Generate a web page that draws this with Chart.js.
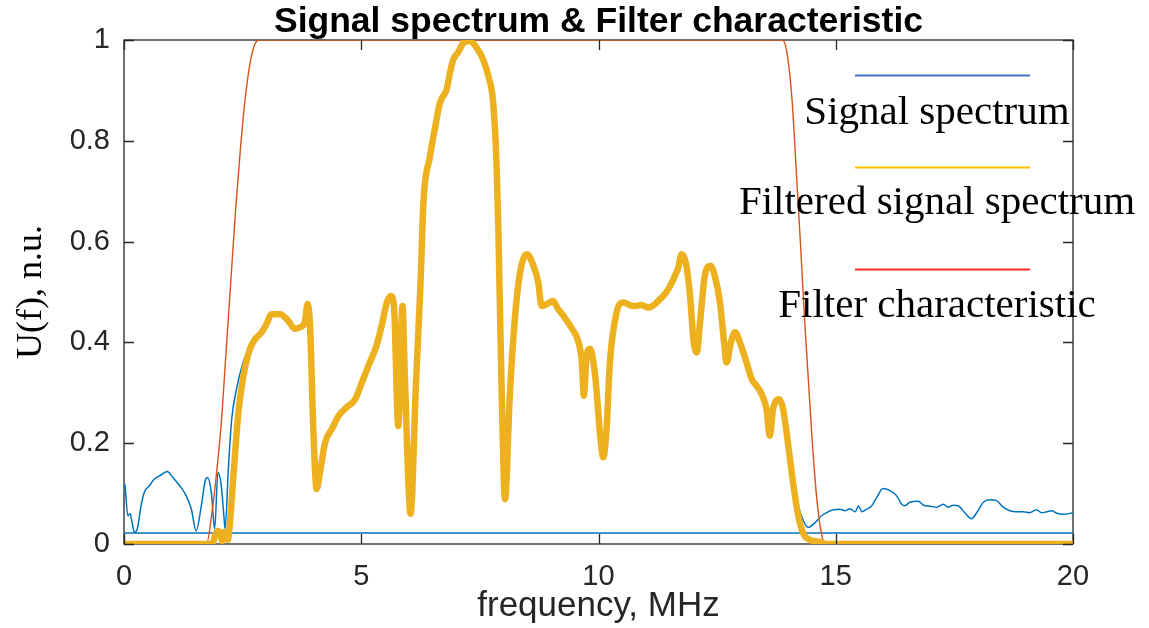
<!DOCTYPE html>
<html>
<head>
<meta charset="utf-8">
<script src="https://cdn.jsdelivr.net/npm/chart.js@4.4.1/dist/chart.umd.min.js"></script>
<style>
  html, body { margin: 0; padding: 0; background: #ffffff; }
  #wrap { width: 1149px; height: 628px; position: relative; }
</style>
</head>
<body>
<div id="wrap"><canvas id="c"></canvas></div>
<script>
// ---- data -------------------------------------------------------------
const chartTitle = 'Signal spectrum & Filter characteristic';
const seriesLabels = ['Signal spectrum', 'Filtered signal spectrum', 'Filter characteristic'];
const xTickLabels = ['0', '5', '10', '15', '20'];
const yTickLabels = ['0', '0.2', '0.4', '0.6', '0.8', '1'];

// filter transfer characteristic (frequency in MHz, normalized gain)
const filterFreq = [0, 1.74, 1.85, 1.95, 2.05, 2.15, 2.25, 2.35, 2.45, 2.55, 2.65, 2.75, 2.85,
  13.88, 13.98, 14.08, 14.18, 14.26, 14.34, 14.42, 14.5, 14.6, 14.7, 14.78, 20];
const filterGain = [0, 0, 0.06, 0.14, 0.24, 0.38, 0.52, 0.66, 0.78, 0.88, 0.95, 0.99, 1,
  1, 0.97, 0.88, 0.72, 0.59, 0.45, 0.33, 0.21, 0.09, 0.02, 0, 0];

// spectrum after filtering
const filteredFreq = [0, 1.86, 1.93, 1.98, 2.03, 2.07, 2.11, 2.15, 2.19, 2.23, 2.3, 2.41, 2.51,
  2.65, 2.76, 2.9, 3.0, 3.11, 3.29, 3.46, 3.6, 3.71, 3.81, 3.87, 3.92, 3.99, 4.06, 4.13,
  4.24, 4.38, 4.52, 4.69, 4.87, 5.04, 5.18, 5.32, 5.43, 5.54, 5.62, 5.69, 5.78, 5.87,
  5.92, 6.04, 6.15, 6.25, 6.31, 6.45, 6.55, 6.66, 6.8, 6.87, 6.94, 7.05, 7.15, 7.29,
  7.43, 7.57, 7.68, 7.78, 7.85, 7.89, 7.92, 7.96, 8.03, 8.13, 8.24, 8.35, 8.49, 8.63,
  8.73, 8.8, 8.91, 9.04, 9.15, 9.26, 9.36, 9.47, 9.57, 9.65, 9.69, 9.75, 9.82, 9.93,
  10.03, 10.1, 10.17, 10.24, 10.38, 10.52, 10.73, 10.91, 11.05, 11.19, 11.3, 11.4,
  11.51, 11.61, 11.68, 11.75, 11.84, 11.93, 12.0, 12.07, 12.14, 12.24, 12.36, 12.45,
  12.56, 12.64, 12.7, 12.79, 12.88, 12.98, 13.12, 13.23, 13.33, 13.44, 13.54, 13.61,
  13.68, 13.81, 13.89, 14.0, 14.1, 14.21, 14.32, 14.46, 14.67, 14.8, 20];
const filteredAmp = [0, 0, 0.02, 0.026, 0.02, 0.006, 0.024, 0.02, 0.008, 0.04, 0.127, 0.26, 0.33,
  0.386, 0.406, 0.42, 0.436, 0.456, 0.456, 0.443, 0.427, 0.43, 0.44, 0.476, 0.433, 0.228, 0.109, 0.142,
  0.202, 0.228, 0.254, 0.271, 0.287, 0.327, 0.36, 0.393, 0.433, 0.479, 0.492, 0.472, 0.234, 0.472,
  0.327, 0.06, 0.31, 0.52, 0.677, 0.77, 0.823, 0.876, 0.902, 0.935, 0.961, 0.977, 0.994, 0.998,
  0.985, 0.961, 0.928, 0.876, 0.757, 0.625, 0.48, 0.3, 0.089, 0.294, 0.45, 0.54, 0.575, 0.552,
  0.519, 0.472, 0.476, 0.482, 0.466, 0.453, 0.439, 0.423, 0.403, 0.36, 0.294, 0.373, 0.387, 0.334,
  0.221, 0.172, 0.228, 0.36, 0.459, 0.479, 0.472, 0.474, 0.469, 0.476, 0.486, 0.496,
  0.512, 0.532, 0.548, 0.575, 0.558, 0.492, 0.406, 0.38, 0.44, 0.532, 0.552, 0.532,
  0.479, 0.406, 0.36, 0.4, 0.42, 0.4, 0.36, 0.327, 0.314, 0.297, 0.268, 0.215,
  0.268, 0.287, 0.268, 0.195, 0.122, 0.056, 0.02, 0.008, 0.004, 0, 0];

// original signal spectrum below and above the pass band
const signalLowFreq = [0, 0.02, 0.08, 0.13, 0.17, 0.22, 0.28, 0.36, 0.43, 0.54, 0.64, 0.75, 0.91,
  1.03, 1.17, 1.31, 1.42, 1.52, 1.63, 1.71, 1.76, 1.84, 1.91, 1.98, 2.05, 2.11, 2.13, 2.2,
  2.27, 2.37, 2.51, 2.6];
const signalLowAmp = [0.12, 0.116, 0.056, 0.06, 0.043, 0.023, 0.03, 0.076, 0.103, 0.116, 0.129, 0.135, 0.144,
  0.132, 0.116, 0.096, 0.069, 0.026, 0.076, 0.125, 0.132, 0.103, 0.03, 0.142, 0.116, 0.05, 0.03, 0.15,
  0.248, 0.307, 0.36, 0.38];
const signalHighFreq = [14.14, 14.3, 14.42, 14.56, 14.7, 14.84, 14.95, 15.09, 15.2, 15.3, 15.41, 15.48,
  15.55, 15.65, 15.76, 15.86, 16.0, 16.14, 16.28, 16.39, 16.46, 16.56, 16.74, 16.85, 16.99,
  17.13, 17.27, 17.37, 17.48, 17.58, 17.72, 17.86, 17.97, 18.11, 18.24, 18.39, 18.53, 18.67,
  18.81, 18.95, 19.09, 19.23, 19.34, 19.45, 19.55, 19.66, 19.8, 20];
const signalHighAmp = [0.102, 0.05, 0.033, 0.042, 0.056, 0.064, 0.068, 0.069, 0.066, 0.07, 0.064, 0.076,
  0.064, 0.069, 0.076, 0.092, 0.11, 0.106, 0.096, 0.079, 0.076, 0.083, 0.085, 0.077, 0.075,
  0.073, 0.079, 0.073, 0.077, 0.076, 0.062, 0.05, 0.062, 0.083, 0.088, 0.086, 0.073, 0.066,
  0.064, 0.064, 0.062, 0.068, 0.062, 0.064, 0.066, 0.061, 0.059, 0.062];
const signalFloorFreq = [0, 20];
const signalFloorAmp = [0.022, 0.022];

// ---- styling ----------------------------------------------------------
const lineColors = ['#0072BD', '#EDB120', '#D95319'];
const legendColors = ['#4472C4', '#FFC000', '#FF2A1A'];
const sans = "'Liberation Sans', Arial, Helvetica, sans-serif";
const serif = "'Liberation Serif', 'Times New Roman', serif";
const axisInk = '#262626';

const toPoints = (xs, ys) => xs.map((x, i) => ({ x: x, y: ys[i] }));
const filteredPts = toPoints(filteredFreq, filteredAmp);
// inside the pass band the signal spectrum coincides with the filtered one
const signalPts = toPoints(signalLowFreq, signalLowAmp)
  .concat(filteredPts.filter(p => p.x > 2.6 && p.x < 14.12))
  .concat(toPoints(signalHighFreq, signalHighAmp));

// MATLAB-like box with inward ticks
const axesFrame = {
  id: 'axesFrame',
  beforeDatasetsDraw(chart) {
    const { ctx, chartArea: a } = chart;
    ctx.save();
    ctx.strokeStyle = axisInk;
    ctx.lineWidth = 1.3;
    ctx.strokeRect(a.left, a.top, a.right - a.left, a.bottom - a.top);
    ctx.restore();
  },
  afterDatasetsDraw(chart) {
    const { ctx, chartArea: a, scales } = chart;
    const len = 10;
    ctx.save();
    ctx.strokeStyle = axisInk;
    ctx.lineWidth = 1.3;
    ctx.beginPath();
    scales.x.ticks.forEach(t => {
      const px = Math.round(scales.x.getPixelForValue(t.value)) + 0.5;
      ctx.moveTo(px, a.bottom); ctx.lineTo(px, a.bottom - len);
      ctx.moveTo(px, a.top); ctx.lineTo(px, a.top + len);
    });
    scales.y.ticks.forEach(t => {
      const py = Math.round(scales.y.getPixelForValue(t.value)) + 0.5;
      ctx.moveTo(a.left, py); ctx.lineTo(a.left + len, py);
      ctx.moveTo(a.right, py); ctx.lineTo(a.right - len, py);
    });
    ctx.stroke();
    ctx.restore();
  }
};

// bold title centred over the axes box
const axesTitle = {
  id: 'axesTitle',
  afterDraw(chart) {
    const { ctx, chartArea: a } = chart;
    ctx.save();
    ctx.font = 'bold 35.5px ' + sans;
    ctx.fillStyle = '#000000';
    ctx.textAlign = 'center';
    ctx.textBaseline = 'alphabetic';
    ctx.fillText(chartTitle, (a.left + a.right) / 2, a.top - 8);
    ctx.restore();
  }
};

// stacked legend: line sample above a centred serif caption
const legendBlock = {
  id: 'legendBlock',
  afterDraw(chart) {
    const { ctx } = chart;
    const lineY = [75, 167, 269];
    const textY = [124, 214, 317];
    ctx.save();
    ctx.font = '41px ' + serif;
    ctx.textAlign = 'center';
    ctx.textBaseline = 'alphabetic';
    chart.data.datasets.forEach(ds => {
      if (ds.legendSlot === undefined) return;
      const i = ds.legendSlot;
      ctx.strokeStyle = legendColors[i];
      ctx.lineWidth = 2;
      ctx.beginPath();
      ctx.moveTo(855, lineY[i] + 0.5);
      ctx.lineTo(1030, lineY[i] + 0.5);
      ctx.stroke();
      ctx.fillStyle = '#000000';
      ctx.fillText(ds.label, 937, textY[i]);
    });
    ctx.restore();
  }
};

new Chart(document.getElementById('c'), {
  type: 'scatter',
  data: {
    datasets: [
      { label: seriesLabels[1], legendSlot: 1, data: filteredPts, showLine: true,
        borderColor: lineColors[1], backgroundColor: lineColors[1], borderWidth: 6.5,
        pointRadius: 0, borderJoinStyle: 'round', borderCapStyle: 'round',
        cubicInterpolationMode: 'monotone', order: 0 },
      { label: seriesLabels[2], legendSlot: 2, data: toPoints(filterFreq, filterGain), showLine: true,
        borderColor: lineColors[2], backgroundColor: lineColors[2], borderWidth: 1.4,
        pointRadius: 0, cubicInterpolationMode: 'monotone', order: 1 },
      { label: seriesLabels[0], legendSlot: 0, data: signalPts, showLine: true,
        borderColor: lineColors[0], backgroundColor: lineColors[0], borderWidth: 1.5,
        pointRadius: 0, cubicInterpolationMode: 'monotone', order: 2 },
      { label: seriesLabels[0] + ' floor', data: toPoints(signalFloorFreq, signalFloorAmp), showLine: true,
        borderColor: lineColors[0], backgroundColor: lineColors[0], borderWidth: 1.5,
        pointRadius: 0, order: 3 }
    ]
  },
  options: {
    responsive: true,
    maintainAspectRatio: false,
    animation: false,
    devicePixelRatio: 1,
    layout: { padding: { left: 0, right: 76, top: 40, bottom: 0 } },
    plugins: {
      legend: { display: false },
      tooltip: { enabled: false },
      title: { display: false }
    },
    scales: {
      x: {
        type: 'linear', min: 0, max: 20,
        grid: { display: false, drawTicks: false },
        border: { display: false },
        ticks: {
          stepSize: 5, padding: 16, color: axisInk, maxRotation: 0,
          font: { family: sans, size: 29 },
          callback: (v, i) => xTickLabels[i]
        },
        title: {
          display: true, text: 'frequency, MHz', color: axisInk,
          font: { family: sans, size: 35 }, padding: { top: 0, bottom: 1 }
        },
        afterFit: s => { s.height = 84; }
      },
      y: {
        type: 'linear', min: 0, max: 1,
        grid: { display: false, drawTicks: false },
        border: { display: false },
        ticks: {
          stepSize: 0.2, padding: 14, color: axisInk,
          font: { family: sans, size: 29 },
          callback: (v, i) => yTickLabels[i]
        },
        title: {
          display: true, text: 'U(f), n.u.', color: '#000000',
          font: { family: serif, size: 36 }, padding: { top: 10, bottom: 0 }
        },
        afterFit: s => { s.width = 124; }
      }
    }
  },
  plugins: [axesFrame, axesTitle, legendBlock]
});
</script>
</body>
</html>
